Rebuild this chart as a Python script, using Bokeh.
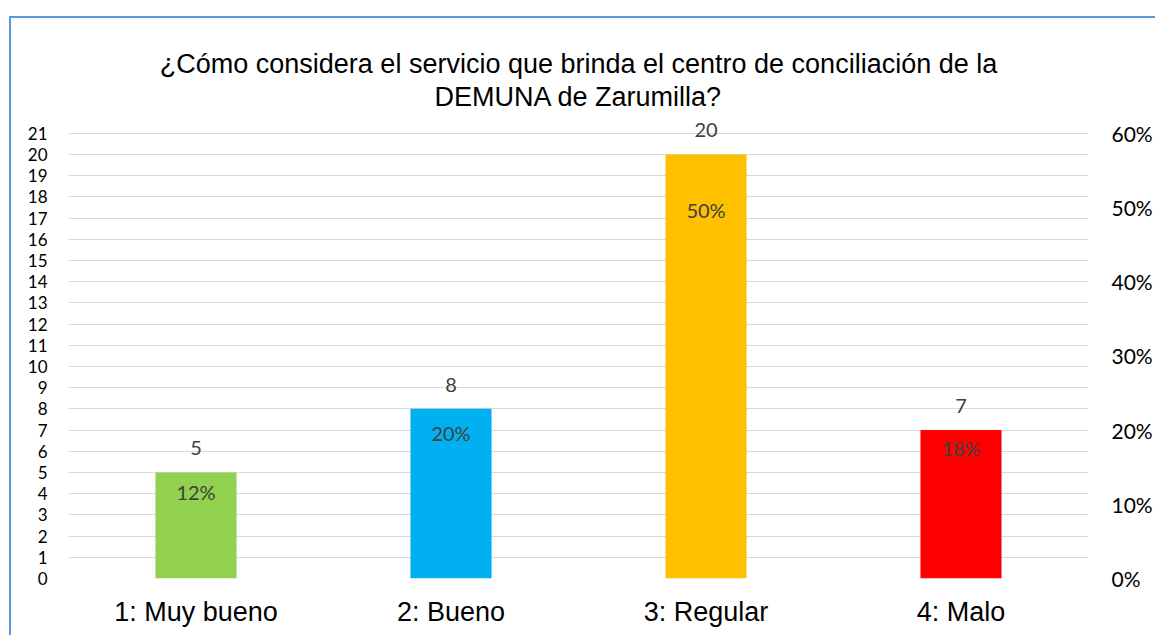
from bokeh.plotting import figure
from bokeh.models import (ColumnDataSource, FactorRange, Range1d, LinearAxis, FixedTicker,
                          NumeralTickFormatter, Title)
from bokeh.core.properties import value
from bokeh.embed import file_html
from bokeh.resources import INLINE

categories = ["1: Muy bueno", "2: Bueno", "3: Regular", "4: Malo"]
counts = [5, 8, 20, 7]
percents = [0.12, 0.20, 0.50, 0.18]
pct_labels = ["12%", "20%", "50%", "18%"]
bar_colors = ["#92D050", "#00B0F0", "#FFC000", "#FF0000"]
left_ticks = list(range(0, 22))
right_ticks = [0.0, 0.1, 0.2, 0.3, 0.4, 0.5, 0.6]
title_lines = ["¿Cómo considera el servicio que brinda el centro de conciliación de la",
               "DEMUNA de Zarumilla?"]

Y_END = 21.6
P_END = Y_END / 21 * 0.6

src = ColumnDataSource(dict(cat=categories, count=counts, pct=percents,
                            pct_label=pct_labels, color=bar_colors,
                            count_label=[str(c) for c in counts]))

p = figure(x_range=FactorRange(*categories, range_padding=0),
           y_range=Range1d(0, Y_END),
           width=1146, height=619, output_backend="svg", toolbar_location=None,
           min_border_left=57, min_border_right=69, min_border_top=102, min_border_bottom=59)
p.margin = (16, 0, 0, 9)
p.styles = {"border-left": "2px solid #5B9BD5", "border-top": "2px solid #5B9BD5"}
p.extra_y_ranges = {"pct": Range1d(0, P_END)}
p.outline_line_color = None
p.background_fill_color = "white"
p.border_fill_color = "white"

spacer = Title(text=" ", text_font_size="6px", standoff=0)
t2 = Title(text=title_lines[1], align="center", text_font="Liberation Sans",
           text_font_size="27px", text_font_style="normal", text_color="black", standoff=2)
t1 = Title(text=title_lines[0], align="center", text_font="Liberation Sans",
           text_font_size="27px", text_font_style="normal", text_color="black", standoff=0)
p.add_layout(spacer, "above")
p.add_layout(t2, "above")
p.add_layout(t1, "above")

p.vbar(x="cat", top="count", width=0.318, color="color", source=src, line_color=None)

p.text(x="cat", y="count", text="count_label", source=src, text_align="center",
       text_baseline="middle", y_offset=-24, text_font=value("Lato"),
       text_font_size="20px", text_color="#404040")
p.text(x="cat", y="pct", text="pct_label", source=src, y_range_name="pct",
       text_align="center", text_baseline="middle", y_offset=3, text_font=value("Lato"),
       text_font_size="20px", text_color="#404040")

# axes
p.yaxis.ticker = FixedTicker(ticks=left_ticks)
p.yaxis.axis_line_color = None
p.yaxis.major_tick_line_color = None
p.yaxis.major_tick_out = 0
p.yaxis.minor_tick_line_color = None
p.yaxis.major_label_text_font = "Lato"
p.yaxis.major_label_text_font_size = "17px"
p.yaxis.major_label_text_color = "black"
p.yaxis.major_label_standoff = 21

ra = LinearAxis(y_range_name="pct", ticker=FixedTicker(ticks=right_ticks),
                formatter=NumeralTickFormatter(format="0%"))
ra.axis_line_color = None
ra.major_tick_line_color = None
ra.major_tick_out = 0
ra.minor_tick_line_color = None
ra.major_label_text_font = "Lato"
ra.major_label_text_font_size = "21px"
ra.major_label_text_color = "black"
ra.major_label_standoff = 23
p.add_layout(ra, "right")

p.xaxis.axis_line_color = None
p.xaxis.major_tick_line_color = None
p.xaxis.major_tick_out = 0
p.xaxis.major_label_text_font = "Liberation Sans"
p.xaxis.major_label_text_font_size = "27px"
p.xaxis.major_label_text_color = "black"
p.xaxis.major_label_standoff = 18

p.xgrid.grid_line_color = None
p.ygrid.ticker = FixedTicker(ticks=left_ticks)
p.ygrid.grid_line_color = "#D9D9D9"
p.ygrid.grid_line_width = 1

open("out.html", "w").write(file_html(p, INLINE))
